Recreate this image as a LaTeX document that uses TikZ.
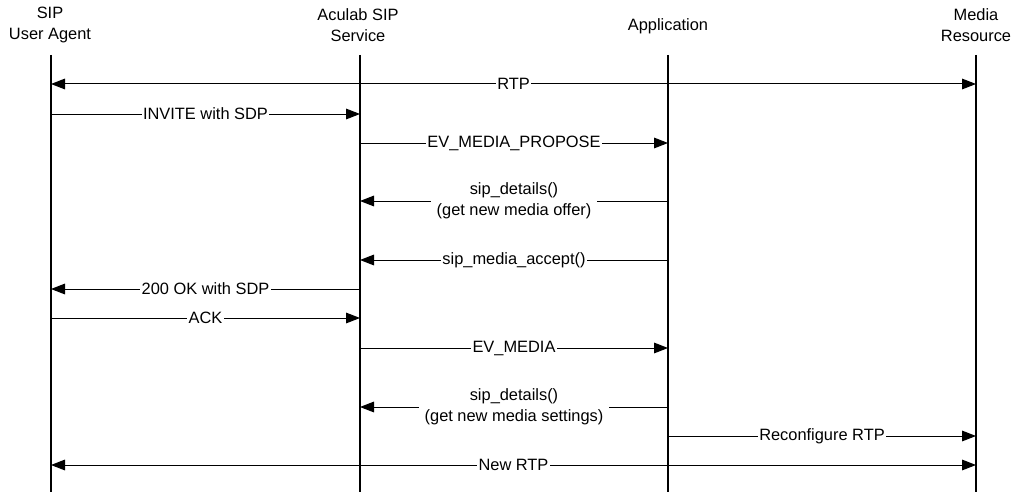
\documentclass[tikz,border=0pt]{standalone}
\usepackage{fontspec}
\setmainfont{Liberation Sans}
\usetikzlibrary{arrows.meta}
\tikzset{
  life/.style={line width=1.5pt},
  msg/.style={line width=0.75pt,-{Triangle[length=10.5pt,width=8pt]}},
  dmsg/.style={line width=0.75pt,{Triangle[length=10.5pt,width=8pt]}-{Triangle[length=10.5pt,width=8pt]}},
  lbl/.style={fill=white,inner sep=1pt,align=center},
  head/.style={align=center}
}
\begin{document}
\begin{tikzpicture}[x=0.75pt,y=-0.75pt,font=\fontsize{12.3}{15.6}\selectfont]
\useasboundingbox (0,0) rectangle (1017,492);
% lifeline tops
\coordinate (ua) at (51,55);
\coordinate (svc) at (360,55);
\coordinate (app) at (668,55);
\coordinate (res) at (976,55);
% headers
\node[head] (uah) at (50,25) {SIP\\User Agent};
\node[head] (svch) at (358,25) {Aculab SIP\\Service};
\node[head] (apph) at (668,26) {Application};
\node[head] (resh) at (976,25) {Media\\Resource};
% lifelines
\coordinate (bot) at (0,492);
\foreach \l in {ua,svc,app,res}
  \draw[life] (\l) -- (\l|-bot);
% message rows
\coordinate (m1) at (0,84);
\coordinate (m2) at (0,114);
\coordinate (m3) at (0,143);
\coordinate (m4) at (0,201);
\coordinate (m5) at (0,260);
\coordinate (m6) at (0,289);
\coordinate (m7) at (0,318);
\coordinate (m8) at (0,348);
\coordinate (m9) at (0,407);
\coordinate (m10) at (0,436);
\coordinate (m11) at (0,465);
\draw[dmsg] (ua|-m1) -- (res|-m1) node[lbl,midway] {RTP};
\draw[msg] (ua|-m2) -- (svc|-m2) node[lbl,midway] {INVITE with SDP};
\draw[msg] (svc|-m3) -- (app|-m3) node[lbl,midway] {EV\_MEDIA\_PROPOSE};
\draw[msg] (app|-m4) -- (svc|-m4) node[lbl,midway,inner xsep=4pt] {sip\_details()\\(get new media offer)};
\draw[msg] (app|-m5) -- (svc|-m5) node[lbl,midway] {sip\_media\_accept()};
\draw[msg] (svc|-m6) -- (ua|-m6) node[lbl,midway] {200 OK with SDP};
\draw[msg] (ua|-m7) -- (svc|-m7) node[lbl,midway] {ACK};
\draw[msg] (svc|-m8) -- (app|-m8) node[lbl,midway] {EV\_MEDIA};
\draw[msg] (app|-m9) -- (svc|-m9) node[lbl,midway,inner xsep=4pt] {sip\_details()\\(get new media settings)};
\draw[msg] (app|-m10) -- (res|-m10) node[lbl,midway] {Reconfigure RTP};
\draw[dmsg] (ua|-m11) -- (res|-m11) node[lbl,midway] {New RTP};
\end{tikzpicture}
\end{document}
